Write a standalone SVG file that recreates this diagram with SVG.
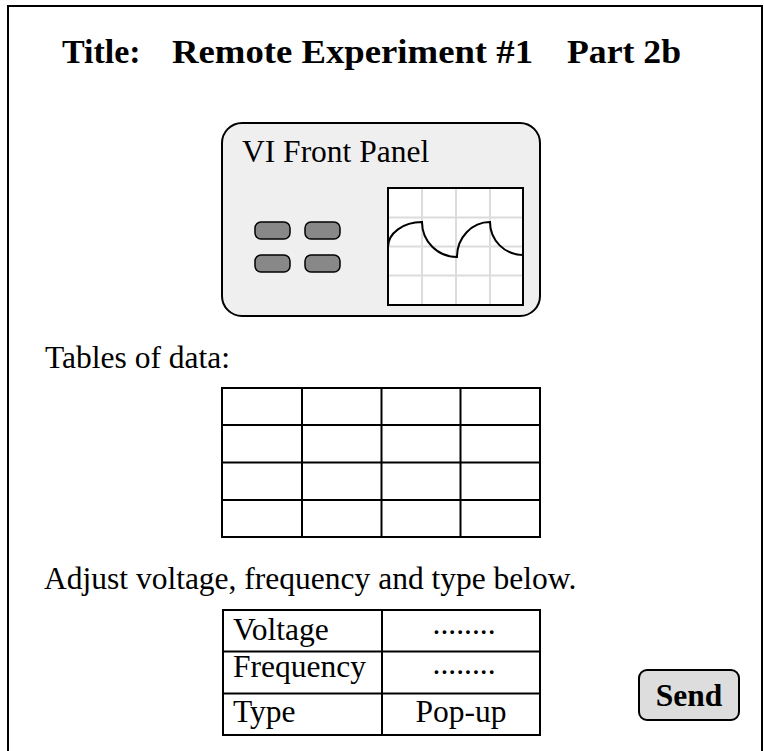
<svg xmlns="http://www.w3.org/2000/svg" width="764" height="751" viewBox="0 0 764 751">
<style>
text{font-family:"Liberation Serif","Times New Roman",serif;fill:#000}
.t{font-size:31.5px}
.b{font-weight:bold}
.h{font-size:34px;font-weight:bold}
.ln{stroke:#000;stroke-width:2;fill:none}
.grid{stroke:#dcdcdc;stroke-width:2;fill:none}
.btn{fill:#888;stroke:#000;stroke-width:1.5}
</style>
<rect x="0" y="0" width="764" height="751" fill="#fff"/>
<g id="frame"><rect x="8" y="6" width="754" height="770" class="ln"/></g>
<g id="title">
<text class="h" x="62" y="63">Title:</text>
<text class="h" x="172" y="63" textLength="361" lengthAdjust="spacingAndGlyphs">Remote Experiment #1</text>
<text class="h" x="567" y="63" textLength="114" lengthAdjust="spacingAndGlyphs">Part 2b</text>
</g>
<g id="vi-panel">
<rect x="222" y="123" width="318" height="193" rx="20" class="ln" style="fill:#efefef"/>
<text class="t" x="242" y="162">VI Front Panel</text>
<rect class="btn" x="255" y="222" width="35" height="17" rx="6"/>
<rect class="btn" x="305" y="222" width="35" height="17" rx="6"/>
<rect class="btn" x="255" y="255" width="35" height="17" rx="6"/>
<rect class="btn" x="305" y="255" width="35" height="17" rx="6"/>
<rect x="388" y="188" width="135" height="117" fill="#fff"/>
<path class="grid" d="M422,188V305M456,188V305M490,188V305M388,217.5H523M388,246.5H523M388,275.5H523"/>
<path class="ln" d="M388,247 A34,25 0 0 1 422,222 A35,35 0 0 0 457,257 A33,35 0 0 1 490,222 A33,33 0 0 0 523,255"/>
<rect x="388" y="188" width="135" height="117" class="ln"/>
</g>
<g id="tables-label"><text class="t" x="45" y="368">Tables of data:</text></g>
<g id="data-table">
<rect x="222" y="388" width="318" height="149" class="ln"/>
<path class="ln" d="M302,388V537M381.5,388V537M460.5,388V537M222,425H540M222,462.5H540M222,500H540"/>
</g>
<g id="adjust-label"><text class="t" x="44" y="589">Adjust voltage, frequency and type below.</text></g>
<g id="control-table">
<rect x="223" y="610" width="317" height="125" class="ln"/>
<path class="ln" d="M382,610V735M223,651.5H540M223,693.5H540"/>
<text class="t" x="233" y="640">Voltage</text>
<text class="t" x="233" y="677">Frequency</text>
<text class="t" x="233" y="722">Type</text>
<text class="t" x="464" y="634" text-anchor="middle">........</text>
<text class="t" x="464" y="674" text-anchor="middle">........</text>
<text class="t" x="461" y="722" text-anchor="middle">Pop-up</text>
</g>
<g id="send-button">
<rect x="639" y="670" width="100" height="50" rx="8" fill="#ddd" stroke="#000" stroke-width="2"/>
<text class="t b" x="689" y="706" text-anchor="middle">Send</text>
</g>
</svg>
